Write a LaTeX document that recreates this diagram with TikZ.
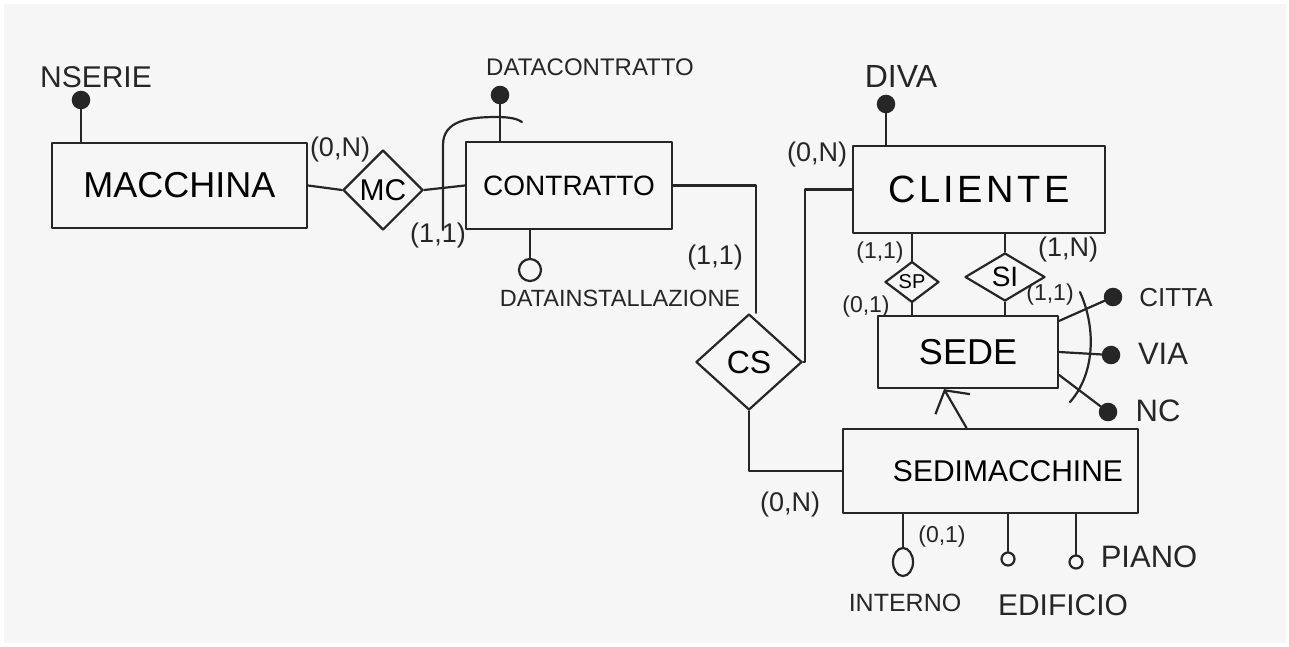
\documentclass[tikz,border=0pt]{standalone}
\usepackage{fontspec}
\setmainfont{Liberation Sans}
\usetikzlibrary{shapes.geometric,arrows.meta,calc}
\definecolor{ink}{HTML}{262626}
\definecolor{paper}{HTML}{F6F6F6}
\newcommand\fsz[1]{\fontsize{#1}{#1}\selectfont}
\tikzset{
  ln/.style={draw=ink,line width=2.2pt,line cap=round,line join=round},
  ent/.style={ln,rectangle,inner sep=0pt},
  rel/.style={ln,diamond,inner sep=0pt},
  txt/.style={text=ink,inner sep=0pt},
  card/.style={txt,font=\fsz{27}},
  smallcard/.style={txt,font=\fsz{23}},
  keyattr/.style={circle,fill=ink,draw=ink,line width=1.5pt,minimum size=17pt,inner sep=0pt},
  optattr/.style={circle,ln,fill=paper,inner sep=0pt},
}
\begin{document}
\begin{tikzpicture}[x=1pt,y=-1pt]
\useasboundingbox (0,0) rectangle (1289,646);
\fill[white] (0,0) rectangle (1289,646);
\fill[paper] (4,4) rectangle (1286,643);

% entities
\node[ent,minimum width=255pt,minimum height=85pt,font=\fsz{36}] (mac) at (179.5,185.5) {MACCHINA};
\node[ent,minimum width=206pt,minimum height=87pt,font=\fsz{28}] (con) at (569,185.5) {CONTRATTO};
\node[ent,minimum width=252pt,minimum height=87pt,font=\fsz{38}\addfontfeature{LetterSpace=9}] (cli) at (979,189.5) {CLIENTE};
\node[ent,minimum width=180pt,minimum height=72pt,font=\fsz{36}] (sede) at (968,352) {SEDE};
\node[ent,minimum width=295pt,minimum height=84pt,font=\fsz{30},text width=265pt,align=right] (sm) at (990.5,471) {SEDIMACCHINE};

% relationships
\node[rel,minimum width=80pt,minimum height=80pt,font=\fsz{30}] (mc) at (383,190) {MC};
\node[rel,minimum width=106pt,minimum height=96pt,font=\fsz{32}] (cs) at (749,362) {CS};
\node[rel,minimum width=54pt,minimum height=40pt,font=\fsz{20}] (sp) at (912,282) {SP};
\node[rel,minimum width=80pt,minimum height=48pt,font=\fsz{28}] (si) at (1005,277) {SI};

% attribute circles
\node[keyattr] (nsd) at (81,100) {};
\node[keyattr] (dcd) at (500,95) {};
\node[keyattr] (dvd) at (886,104) {};
\node[keyattr] (ctd) at (1113,297) {};
\node[keyattr] (vid) at (1111,355) {};
\node[keyattr] (ncd) at (1108,412) {};
\node[optattr,minimum size=22pt] (did) at (530,270) {};
\node[optattr,ellipse,minimum width=20pt,minimum height=28pt] (ind) at (903,562) {};
\node[optattr,minimum size=13pt] (edd) at (1008,559) {};
\node[optattr,minimum size=13pt] (pid) at (1076,562) {};

% attribute names
\node[txt,font=\fsz{30}] (nst) at (96,77) {NSERIE};
\node[txt,font=\fsz{24}] (dct) at (590,67) {DATACONTRATTO};
\node[txt,font=\fsz{23.5}] (dit) at (620,298) {DATAINSTALLAZIONE};
\node[txt,font=\fsz{32}] (dvt) at (901,76) {DIVA};
\node[txt,font=\fsz{26}] (ctt) at (1176,298) {CITTA};
\node[txt,font=\fsz{31}] (vit) at (1163,354) {VIA};
\node[txt,font=\fsz{31}] (nct) at (1158,411) {NC};
\node[txt,font=\fsz{31}] (pit) at (1149,557) {PIANO};
\node[txt,font=\fsz{25}] (int) at (905,603) {INTERNO};
\node[txt,font=\fsz{30}] (edt) at (1063,605) {EDIFICIO};

% cardinalities
\node[card] (c1) at (340,150) {(0,N)};
\node[card] (c2) at (438,236) {(1,1)};
\node[card] (c3) at (715,258) {(1,1)};
\node[card] (c4) at (817,155) {(0,N)};
\node[card] (c5) at (790,505) {(0,N)};
\node[smallcard] (c6) at (880,253) {(1,1)};
\node[smallcard] (c7) at (866,307) {(0,1)};
\node[card] (c8) at (1068,250) {(1,N)};
\node[smallcard] (c9) at (1050,295) {(1,1)};
\node[smallcard] (c10) at (942,537) {(0,1)};

% connectors
\draw[ln] (nsd) -- (nsd |- mac.north);
\draw[ln] (dcd) -- (dcd |- con.north);
\draw[ln] (dvd) -- (dvd |- cli.north);
\draw[ln] (con.south -| did) -- (did);
\draw[ln] (mac.east) -- (mc.west);
\draw[ln] (mc.east) -- (con.west);
\draw[ln] (con.east) -| ([xshift=7pt]cs.north);
\draw[ln] (cs.east) -- ++(2,0) |- (cli.west);
\draw[ln] (cs.south) |- (sm.west);
\draw[ln] (sp.north |- cli.south) -- (sp.north);
\draw[ln] (sp.south) -- (sp.south |- sede.north);
\draw[ln] (si.north |- cli.south) -- (si.north);
\draw[ln] (si.south) -- (si.south |- sede.north);
\draw[ln] ([yshift=-6pt]sede.north east) -- (ctd);
\draw[ln] (sede.east) -- (vid);
\draw[ln] ([yshift=-23pt]sede.east) -- (ncd);
\draw[ln,-{Straight Barb[length=16pt,width=40pt,line width=2.2pt]}] ([xshift=-24pt]sm.north) -- ([xshift=-24pt]sede.south);
\draw[ln] (ind.north |- sm.south) -- (ind.north);
\draw[ln] (edd.north |- sm.south) -- (edd.north);
\draw[ln] (pid.north |- sm.south) -- (pid.north);

% identifier arcs
\draw[ln] (443,230) -- (443,145) .. controls (443,120) and (470,117) .. (497,117) .. controls (510,117) and (518,119) .. (522,122);
\draw[ln] (1080,292) .. controls (1097,330) and (1094,375) .. (1070,402);
\end{tikzpicture}
\end{document}
